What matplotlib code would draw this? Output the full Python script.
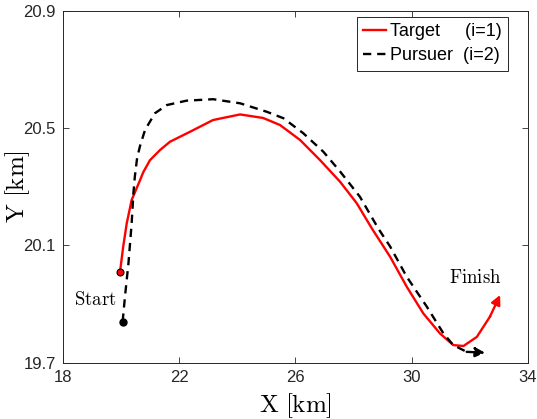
import matplotlib
matplotlib.use('Agg')
import matplotlib.pyplot as plt

plt.rcParams['font.family'] = ['Liberation Sans', 'DejaVu Sans']
plt.rcParams['mathtext.fontset'] = 'cm'

# Target (i=1) trajectory, km
target_x = [19.97, 20.08, 20.20, 20.37, 20.66, 20.77, 21.00, 21.35, 21.69, 22.38,
            23.17, 24.10, 24.89, 25.47, 26.16, 26.85, 27.54, 28.11, 28.63, 29.26,
            29.83, 30.40, 30.97, 31.43, 31.78, 32.24, 32.69, 33.04]
target_y = [20.010, 20.096, 20.175, 20.255, 20.323, 20.350, 20.391, 20.426, 20.454, 20.488,
            20.528, 20.547, 20.535, 20.511, 20.460, 20.391, 20.317, 20.244, 20.158, 20.061,
            19.959, 19.868, 19.800, 19.760, 19.757, 19.788, 19.857, 19.931]

# Pursuer (i=2) trajectory, km
pursuer_x = [20.06, 20.14, 20.26, 20.37, 20.43, 20.48, 20.56, 20.66, 20.83, 21.17,
             21.58, 22.26, 23.17, 24.10, 25.02, 25.59, 26.27, 26.96, 27.54, 28.22,
             28.85, 29.26, 29.83, 30.52, 31.09, 31.43, 31.89, 32.52]
pursuer_y = [19.840, 19.925, 20.039, 20.175, 20.278, 20.335, 20.400, 20.440, 20.494, 20.551,
             20.579, 20.594, 20.599, 20.585, 20.556, 20.534, 20.483, 20.420, 20.352, 20.266,
             20.158, 20.096, 19.993, 19.891, 19.800, 19.760, 19.737, 19.734]

fig = plt.figure(figsize=(5.37, 4.19), dpi=100)
ax = fig.add_axes([0.1168, 0.1344, 0.8665, 0.8394])

ax.plot(target_x[:-1], target_y[:-1], color='red', lw=1.7, label='Target     (i=1)',
        solid_joinstyle='round')
ax.plot(pursuer_x[:-1], pursuer_y[:-1], color='black', lw=1.7, ls=(0, (3.5, 2.5)),
        label='Pursuer  (i=2)', dash_joinstyle='round')

# arrowheads at the end
ax.annotate('', xy=(target_x[-1], target_y[-1]), xytext=(target_x[-2], target_y[-2]),
            arrowprops=dict(arrowstyle='-|>', color='red', lw=1.7, mutation_scale=14,
                            shrinkA=0, shrinkB=0))
ax.annotate('', xy=(pursuer_x[-1], pursuer_y[-1]), xytext=(pursuer_x[-2], pursuer_y[-2]),
            arrowprops=dict(arrowstyle='-|>', color='black', lw=1.7, ls='--',
                            mutation_scale=14, shrinkA=0, shrinkB=0))

# start markers
ax.plot(target_x[0], target_y[0], 'o', ms=5, mfc='red', mec='black', mew=0.8)
ax.plot(pursuer_x[0], pursuer_y[0], 'o', ms=5, mfc='black', mec='black')

ax.text(19.11, 19.914, r'$\mathrm{Start}$', fontsize=13.5, ha='center', va='center')
ax.text(32.18, 19.989, r'$\mathrm{Finish}$', fontsize=13.5, ha='center', va='center')

ax.set_xlim(18, 34)
ax.set_ylim(19.7, 20.9)
ax.set_xticks([18, 22, 26, 30, 34])
ax.set_yticks([19.7, 20.1, 20.5, 20.9])
ax.tick_params(direction='in', length=4, labelsize=12, colors='#262626', width=0.6,
               top=True, right=True, pad=5)
for s in ax.spines.values():
    s.set_color('#262626')
    s.set_linewidth(0.7)

ax.set_xlabel(r'$\mathrm{X\ [km]}$', fontsize=18)
ax.set_ylabel(r'$\mathrm{Y\ [km]}$', fontsize=18)
ax.xaxis.set_label_coords(0.5, -0.08)
ax.yaxis.set_label_coords(-0.066, 0.5)

leg = ax.legend(loc='upper right', bbox_to_anchor=(0.957, 0.983), borderaxespad=0,
                fontsize=13, handlelength=1.3, handletextpad=0.2, fancybox=False,
                framealpha=1, borderpad=0.35, labelspacing=0.4)
leg.get_frame().set_edgecolor('#262626')
leg.get_frame().set_linewidth(0.7)

fig.savefig('out.png', dpi=100)
